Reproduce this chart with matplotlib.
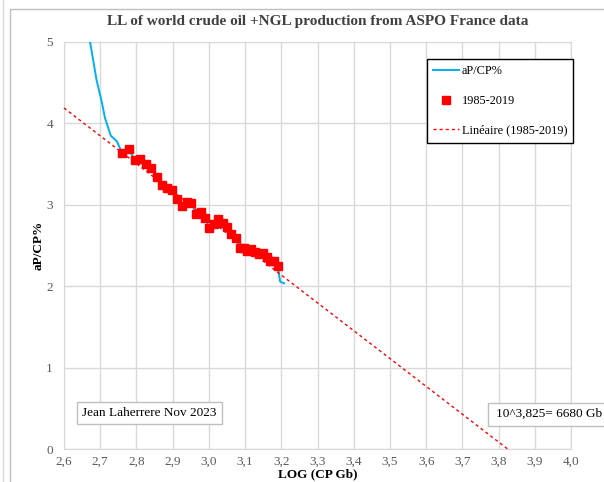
import numpy as np
import matplotlib.pyplot as plt
from matplotlib.patches import Rectangle

plt.rcParams['font.family'] = ['Liberation Serif', 'DejaVu Serif']

# aP/CP% before 1985 (blue curve only)
early_logcp = [2.672, 2.690, 2.704, 2.713, 2.729, 2.746]
early_ratio = [5.00, 4.53, 4.27, 4.07, 3.85, 3.78]

# 1985-2019 points
logcp = [2.761, 2.779, 2.795, 2.810, 2.826, 2.840, 2.856, 2.870, 2.884, 2.898,
         2.912, 2.925, 2.939, 2.952, 2.965, 2.978, 2.990, 3.001, 3.014, 3.026,
         3.039, 3.050, 3.062, 3.074, 3.086, 3.096, 3.106, 3.117, 3.128, 3.139,
         3.150, 3.160, 3.170, 3.179, 3.190]
ratio = [3.633, 3.689, 3.547, 3.567, 3.497, 3.448, 3.338, 3.247, 3.206, 3.178,
         3.071, 2.982, 3.038, 3.022, 2.883, 2.912, 2.834, 2.719, 2.764, 2.829,
         2.780, 2.727, 2.645, 2.588, 2.466, 2.466, 2.436, 2.461, 2.420, 2.399,
         2.404, 2.359, 2.306, 2.306, 2.245]

# after 2019 (blue curve only)
late_logcp = [3.197, 3.208]
late_ratio = [2.055, 2.035]

# linear trend of 1985-2019: y = slope * (x - x0), x0 = LOG of ultimate
trend_x0 = 3.825
trend_slope = -3.42

xticks = [2.6, 2.7, 2.8, 2.9, 3.0, 3.1, 3.2, 3.3, 3.4, 3.5, 3.6, 3.7, 3.8, 3.9, 4.0]
yticks = [0, 1, 2, 3, 4, 5]

fig = plt.figure(figsize=(6.04, 4.82), dpi=100)
ax = fig.add_axes([64 / 604, 1 - 449 / 482, 507 / 604, 407 / 482])

grid_c = '#d9d9d9'
ax.set_xlim(2.6, 4.0)
ax.set_ylim(0, 5)
ax.set_xticks(xticks)
ax.set_yticks(yticks)
ax.set_xticklabels([f'{t:.1f}'.replace('.', ',') for t in xticks])
ax.grid(True, color=grid_c, linewidth=1)
ax.set_axisbelow(True)
for s in ax.spines.values():
    s.set_color(grid_c)
ax.tick_params(length=0, colors='#595959', labelsize=9.5)
ax.tick_params(axis='x', pad=5)
ax.tick_params(axis='y', pad=8)

blue_x = early_logcp + logcp + late_logcp
blue_y = early_ratio + ratio + late_ratio
ax.plot(blue_x, blue_y, color='#00b0f0', linewidth=1.4, label='aP/CP%', zorder=3)
ax.plot(logcp, ratio, linestyle='none', marker='s', markersize=6.3,
        color='#ff0000', label='1985-2019', zorder=4)
tx = np.array([2.6, trend_x0])
ax.plot(tx, trend_slope * (tx - trend_x0), color='#ff0000', linestyle=(0, (2.2, 2.2)),
        linewidth=1, label='Linéaire (1985-2019)', zorder=5, clip_on=False)

ax.set_title('LL of world crude oil +NGL production from ASPO France data',
             fontsize=11, fontweight='bold', color='#404040', pad=12)
ax.set_xlabel('LOG (CP Gb)', fontsize=9.5, fontweight='bold', labelpad=0)
ax.set_ylabel('aP/CP%', fontsize=9.5, fontweight='bold', labelpad=1)

leg = fig.legend(loc='upper left', bbox_to_anchor=(427 / 604, 1 - 59 / 482),
                 fontsize=8.8, numpoints=1, handlelength=2.1, handletextpad=0.25,
                 labelspacing=1.45, borderpad=0.5, borderaxespad=0,
                 fancybox=False, edgecolor='black')
leg.get_frame().set_linewidth(1)
leg.get_frame().set_alpha(1)

box = dict(boxstyle='square,pad=0.4', facecolor='white', edgecolor='#bfbfbf')
fig.text(82 / 604, 1 - 413 / 482, 'Jean Laherrere Nov 2023', fontsize=9.5,
         va='center', ha='left', bbox=box)
fig.add_artist(Rectangle((488 / 604, 1 - 426 / 482), 0.3, 23 / 482,
                         transform=fig.transFigure, facecolor='white',
                         edgecolor='#bfbfbf', linewidth=1))
fig.text(496 / 604, 1 - 414 / 482, '10^3,825= 6680 Gb', fontsize=9.5,
         va='center', ha='left')

# chart border
fig.add_artist(Rectangle((10 / 604, -0.1), 1.0, 1 - 9 / 482 + 0.1,
                         transform=fig.transFigure, fill=False,
                         edgecolor='#bfbfbf', linewidth=1))
fig.add_artist(plt.Line2D([2.5 / 604, 2.5 / 604], [0, 1], transform=fig.transFigure,
                          color='#d9d9d9', linewidth=1))

fig.savefig('out.png', dpi=100)
